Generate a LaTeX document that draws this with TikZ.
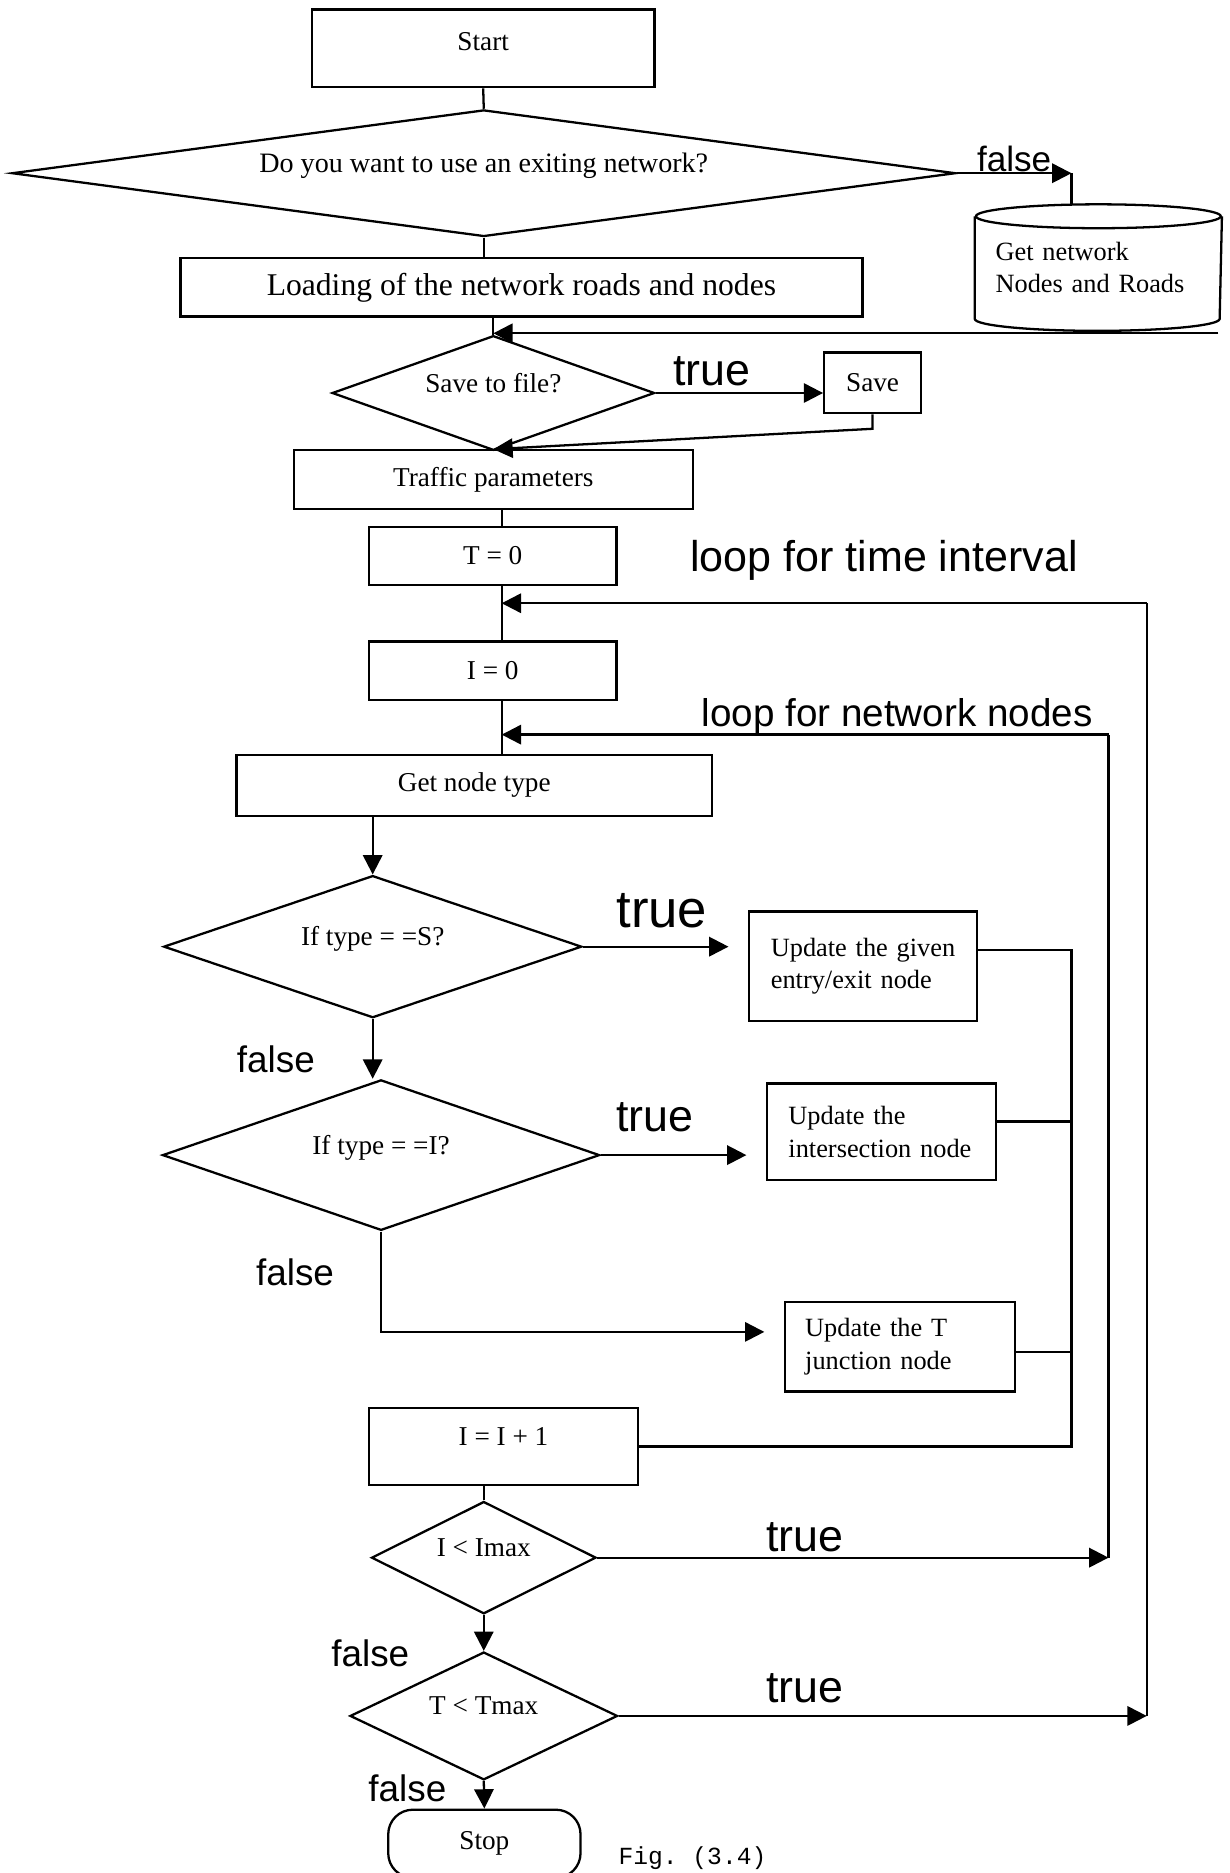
\documentclass[tikz,border=0pt]{standalone}
\usepackage{fontspec}
\setmainfont{Liberation Serif}
\setsansfont{Liberation Sans}
\setmonofont{Liberation Mono}
\usetikzlibrary{shapes.geometric,arrows.meta}
\newcommand\pxu{0.68pt}
\newcommand\boxfont{\fontsize{15.5pt}{18.5pt}\selectfont}
\newcommand\tagfont[1]{\sffamily\fontsize{#1}{#1}\selectfont}
\begin{document}
\begin{tikzpicture}[x=\pxu,y=\pxu,line width=1.3pt,
  sz/.style 2 args={minimum width=#1*\pxu,minimum height=#2*\pxu},
  box/.style={draw,rectangle,inner sep=0pt,font=\boxfont},
  dia/.style={draw,diamond,inner sep=0pt,font=\boxfont,text depth=12pt},
  arr/.style={-{Triangle[length=11pt,width=11pt]}},
  gap/.style={arr,shorten >=11pt},
  lbl/.style={inner sep=0pt,font=\tagfont{21pt}}]
\useasboundingbox (0,0) rectangle (1029,-1568);
\node[box,sz={287}{65},text depth=8pt] (start) at (404.5,-40.5) {Start};
\node[dia,aspect=7.45,sz={790}{106},font=\fontsize{16pt}{19pt}\selectfont] (q1) at (405,-145) {Do you want to use an exiting network?};
\node[box,sz={571}{49},font=\fontsize{18pt}{21pt}\selectfont] (load) at (436.5,-240.5) {Loading of the network roads and nodes};
\node[sz={205}{84},inner sep=0pt,text width=117pt,align=left,font=\fontsize{15pt}{18.5pt}\selectfont] (db) at (919.5,-224) {Get network\\Nodes and Roads};
\draw (db.north west) -- (db.south west) arc[start angle=180,end angle=360,x radius=102.5,y radius=10] -- (db.north east);
\draw (db.north) ellipse[x radius=102.5,y radius=10];
\node[dia,aspect=2.8,sz={270}{96}] (sv) at (413,-329) {Save to file?};
\node[box,sz={81}{51}] (save) at (730.5,-320.5) {Save};
\node[box,sz={334}{49}] (traf) at (413,-401.5) {Traffic parameters};
\node[box,sz={207}{49}] (t0) at (412.5,-465.5) {T = 0};
\node[box,sz={207}{49}] (i0) at (412.5,-561.5) {I = 0};
\node[box,sz={398}{51}] (gnt) at (397,-657.5) {Get node type};
\node[dia,aspect=2.94,sz={350}{119}] (qs) at (312,-792.5) {If type = =S?};
\node[box,sz={191}{92},align=left,text width=105pt,font=\fontsize{15pt}{18.5pt}\selectfont] (ups) at (722.5,-809) {Update the given\\entry/exit node};
\node[dia,aspect=2.9,sz={366}{126}] (qi) at (319,-967) {If type = =I?};
\node[box,sz={192}{81},align=left,text width=106pt,font=\fontsize{15pt}{18.5pt}\selectfont] (upi) at (738,-947.5) {Update the\\intersection node};
\node[box,sz={193}{75},align=left,text width=108pt,font=\fontsize{15pt}{18.5pt}\selectfont] (upt) at (753.5,-1127.5) {Update the T\\junction node};
\node[box,sz={225}{64},text depth=12pt] (inc) at (421.5,-1211) {I = I + 1};
\node[dia,aspect=2,sz={188}{94}] (qm) at (405,-1304) {I < Imax};
\node[dia,aspect=2.1,sz={224}{107}] (qt) at (405,-1436.5) {T < Tmax};
\node[draw,rounded corners=14pt,sz={161}{57},inner sep=0pt,font=\boxfont] (stop) at (405.5,-1543.5) {Stop};
\coordinate (sp) at (420,0);
\coordinate (fq) at (897,-145);
\coordinate (ft) at (897,-172);
\coordinate (dbo) at (1020,-279);
\coordinate (tl) at (960,-505);
\coordinate (nl) at (928,-615);
\coordinate (bus) at (897,-795);
\coordinate (jf) at (319,-1115);
\draw (start.south) -- (q1.north);
\draw (q1.south) -- (load.north -| q1.south);
\draw[arr] (q1.east) -- (fq);
\draw (fq) -- (ft);
\draw[arr] (dbo) -- (dbo -| sv.north);
\draw (load.south -| sv.north) -- (sv.north);
\draw[arr] (sv.east) -- (sv.east -| save.west);
\draw[arr] (save.south) -- ++(0,-12) -- (traf.north);
\draw (traf.south -| sp) -- (t0.north -| sp);
\draw (t0.south -| sp) -- (i0.north -| sp);
\draw (i0.south -| sp) -- (gnt.north -| sp);
\draw[arr] (tl) -- (tl -| sp);
\draw[arr] (nl) -- (nl -| sp);
\draw[arr] (gnt.south -| qs.north) -- (qs.north);
\draw[gap] (qs.east) -- (qs.east -| ups.west);
\draw[arr] (qs.south) -- (qs.south |- qi.north);
\draw[gap] (qi.east) -- (qi.east -| upi.west);
\draw[gap] (qi.south) -- (jf) -- (jf -| upt.west);
\draw (ups.east |- bus) -- (bus) -- (bus |- inc.east) -- (inc.east);
\draw ([yshift=5.8pt]upi.east) -- ([yshift=5.8pt]upi.east -| bus);
\draw ([yshift=-3pt]upt.east) -- ([yshift=-3pt]upt.east -| bus);
\draw (inc.south -| qm.north) -- (qm.north);
\draw[arr] (qm.east) -- (qm.east -| nl);
\draw (qm.east -| nl) -- (nl);
\draw[arr] (qm.south) -- (qt.north);
\draw[arr] (qt.east) -- (qt.east -| tl);
\draw (qt.east -| tl) -- (tl);
\draw[arr] (qt.south) -- (stop.north);
\node[lbl,font=\tagfont{20pt}] (fl1) at (849,-133) {false};
\foreach \n/\x/\y in {fl2/231/-887,fl3/247/-1065,fl4/310/-1384,fl5/341/-1497}{\node[lbl] (\n) at (\x,\y) {false};}
\foreach \n/\x/\y in {tr1/596/-311,tr3/548/-935,tr4/674/-1287,tr5/674/-1413}{\node[lbl,font=\tagfont{25.5pt}] (\n) at (\x,\y) {true};}
\node[lbl,font=\tagfont{30pt}] (tr2) at (554,-762) {true};
\node[lbl,font=\tagfont{24.5pt}] (lt) at (740,-469) {loop for time interval};
\node[lbl,font=\tagfont{22pt}] (ln) at (751,-600) {loop for network nodes};
\node[anchor=base west,inner sep=0pt,font=\ttfamily\fontsize{14pt}{14pt}\selectfont] (fig) at (517,-1561) {Fig. (3.4)};
\end{tikzpicture}
\end{document}
